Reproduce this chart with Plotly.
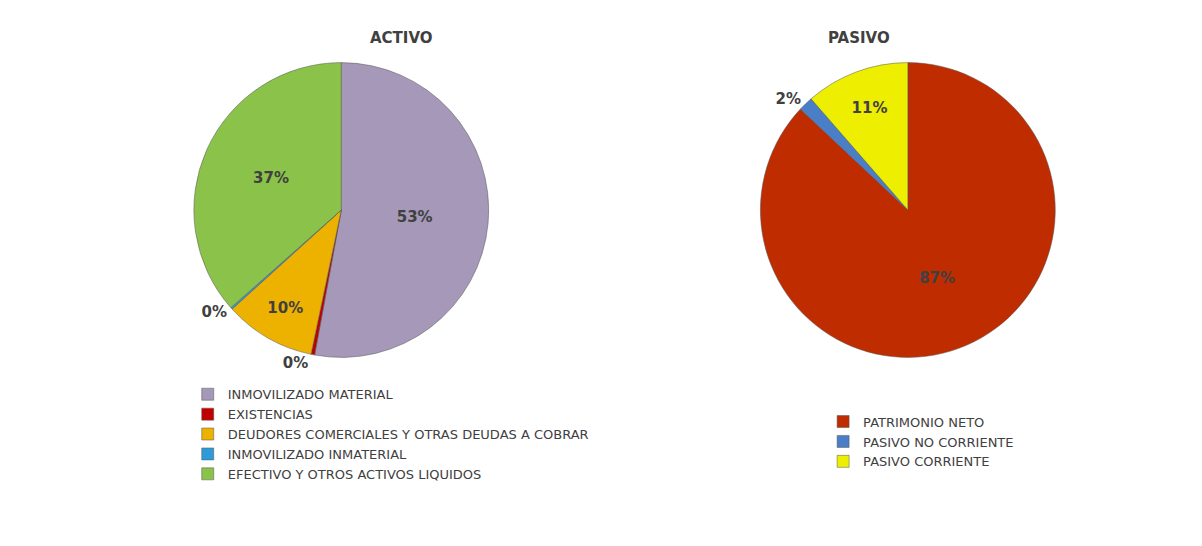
import plotly.graph_objects as go

activo_labels = ["INMOVILIZADO MATERIAL", "EXISTENCIAS", "DEUDORES COMERCIALES Y OTRAS DEUDAS A COBRAR",
                 "INMOVILIZADO INMATERIAL", "EFECTIVO Y OTROS ACTIVOS LIQUIDOS"]
activo_values = [53.0, 0.4, 10.0, 0.2, 36.6]
activo_colors = ["#A598B8", "#C00000", "#EDB100", "#2E9BD8", "#8BC34A"]

pasivo_labels = ["PATRIMONIO NETO", "PASIVO NO CORRIENTE", "PASIVO CORRIENTE"]
pasivo_values = [87.0, 1.6, 11.4]
pasivo_colors = ["#BF2C00", "#4A7FC8", "#EEEE00"]

txt = dict(family="DejaVu Sans", size=15, color="#404040")

fig = go.Figure()
fig.add_trace(go.Pie(
    labels=activo_labels, values=activo_values, sort=False, direction="clockwise", rotation=0,
    marker=dict(colors=activo_colors, line=dict(color="#555555", width=0.5)),
    texttemplate="<b>%{percent:.0%}</b>", textfont=txt,
    textposition=["inside", "outside", "inside", "outside", "inside"],
    domain=dict(x=[0.0, 0.45], y=[0.36, 0.9]), legend="legend", hoverinfo="label+percent",
))
fig.add_trace(go.Pie(
    labels=pasivo_labels, values=pasivo_values, sort=False, direction="clockwise", rotation=0,
    marker=dict(colors=pasivo_colors, line=dict(color="#555555", width=0.5)),
    texttemplate="<b>%{percent:.0%}</b>", textfont=txt,
    textposition=["inside", "outside", "inside"],
    domain=dict(x=[0.55, 0.97], y=[0.36, 0.9]), legend="legend2", hoverinfo="label+percent",
))

legend_font = dict(family="DejaVu Sans", size=13, color="#404040")
fig.update_layout(
    width=1202, height=546, paper_bgcolor="white", plot_bgcolor="white",
    margin=dict(l=0, r=0, t=0, b=0),
    annotations=[
        dict(text="<b>ACTIVO</b>", x=0.25, y=0.965, xref="paper", yref="paper", showarrow=False,
             font=dict(family="DejaVu Sans", size=15, color="#404040")),
        dict(text="<b>PASIVO</b>", x=0.745, y=0.965, xref="paper", yref="paper", showarrow=False,
             font=dict(family="DejaVu Sans", size=15, color="#404040")),
    ],
    legend=dict(x=0.08, y=0.32, xanchor="left", yanchor="top", font=legend_font,
                bgcolor="rgba(0,0,0,0)", itemclick=False),
    legend2=dict(x=0.68, y=0.27, xanchor="left", yanchor="top", font=legend_font,
                 bgcolor="rgba(0,0,0,0)", itemclick=False),
)

fig.write_html("out.html")
